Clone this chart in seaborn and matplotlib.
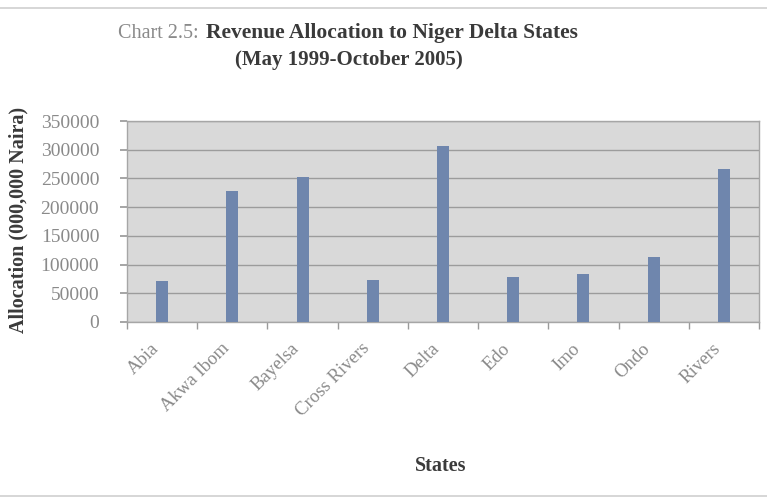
import matplotlib
matplotlib.use("Agg")
import matplotlib.pyplot as plt
from matplotlib.lines import Line2D
from matplotlib.ticker import FixedLocator
from matplotlib.transforms import ScaledTranslation
import seaborn as sns
import pandas as pd

states = ["Abia", "Akwa Ibom", "Bayelsa", "Cross Rivers", "Delta", "Edo", "Imo", "Ondo", "Rivers"]
allocation = [72000, 228000, 252000, 73500, 307000, 77500, 84000, 113000, 267000]
yticks = [0, 50000, 100000, 150000, 200000, 250000, 300000, 350000]

df = pd.DataFrame({"State": states, "Allocation": allocation})

sns.set_theme(style="white")
plt.rcParams['font.family'] = ['Liberation Serif', 'DejaVu Serif']

fig = plt.figure(figsize=(7.67, 5.0), dpi=100)
ax = fig.add_axes([0.1656, 0.356, 0.824, 0.402])
ax.set_facecolor("#d9d9d9")

sns.barplot(data=df, x="State", y="Allocation", color="#6f86ad", width=0.17,
            saturation=1, linewidth=0, ax=ax, zorder=3)

ax.set_ylim(0, 350000)
ax.set_xlim(-0.5, len(states) - 0.5)
ax.set_yticks(yticks)
ax.set_yticklabels([str(v) for v in yticks], color="#8a8a8a", fontsize=14)
ax.set_xticks(range(len(states)))
ax.set_xticklabels(states, rotation=45, ha="right", rotation_mode="anchor",
                   color="#8a8a8a", fontsize=13.5)
ax.tick_params(axis="x", which="major", length=0, pad=13)
offset = ScaledTranslation(-0.12, 0.0, fig.dpi_scale_trans)
for lbl in ax.get_xticklabels():
    lbl.set_transform(lbl.get_transform() + offset)
ax.xaxis.set_minor_locator(FixedLocator([i + 0.5 for i in range(-1, len(states))]))
ax.tick_params(axis="x", which="minor", length=5, color="#9a9a9a", bottom=True)
ax.tick_params(axis="y", length=5, color="#9a9a9a", left=True, pad=15)
ax.grid(axis="y", color="#9c9c9c", linewidth=1.0, zorder=1)
ax.set_axisbelow(True)
for s in ax.spines.values():
    s.set_color("#a6a6a6")
    s.set_linewidth(1.0)
ax.set_xlabel("")
ax.set_ylabel("")

fig.text(0.024, 0.56, "Allocation (000,000 Naira)", rotation=90, ha="center", va="center",
         fontsize=14.5, fontweight="bold", color="#3a3a3a")
fig.text(0.574, 0.068, "States", ha="center", va="center",
         fontsize=14.5, fontweight="bold", color="#3a3a3a")

fig.text(0.154, 0.934, "Chart 2.5:", ha="left", va="center", fontsize=14.5, color="#8a8a8a")
fig.text(0.268, 0.934, "Revenue Allocation to Niger Delta States", ha="left", va="center",
         fontsize=15.5, fontweight="bold", color="#3a3a3a")
fig.text(0.455, 0.88, "(May 1999-October 2005)", ha="center", va="center",
         fontsize=15, fontweight="bold", color="#3a3a3a")

fig.add_artist(Line2D([0, 1], [0.985, 0.985], transform=fig.transFigure, color="#cfcfcf", lw=1.2))
fig.add_artist(Line2D([0, 1], [0.008, 0.008], transform=fig.transFigure, color="#cfcfcf", lw=1.2))

fig.savefig("out.png", dpi=100, facecolor="white")
